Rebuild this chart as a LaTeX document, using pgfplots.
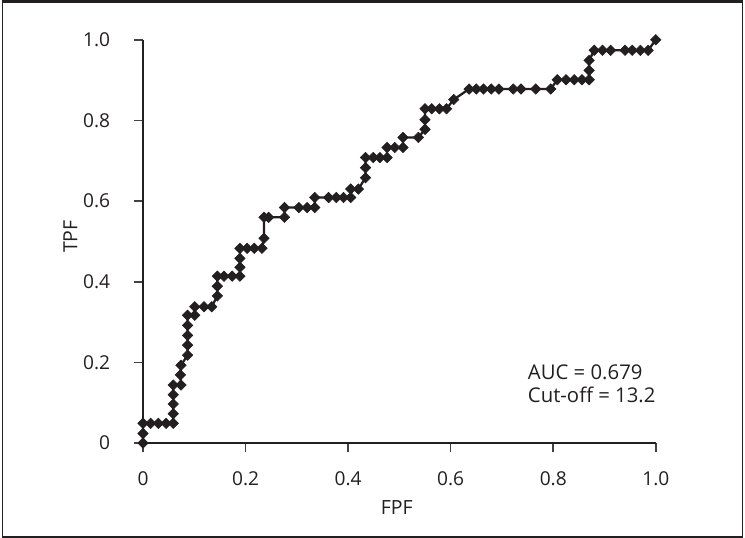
\documentclass[border=0pt]{standalone}
\usepackage{pgfplots}
\pgfplotsset{compat=1.18}
\usepackage{fontspec}
\setmainfont{Open Sans}
\definecolor{ink}{HTML}{231F20}
\begin{document}
\begin{tikzpicture}
\begin{axis}[
  at={(0,0)}, anchor=south west,
  scale only axis, width=257.5pt, height=202.5pt,
  xmin=0, xmax=1, ymin=0, ymax=1,
  clip=false,
  axis x line*=bottom, axis y line*=left,
  axis line style={ink, line width=0.8pt, -},
  tick align=outside, major tick length=4.5pt,
  tick style={ink!85, line width=0.8pt},
  xtick={0,0.2,0.4,0.6,0.8,1.0},
  ytick={0,0.2,0.4,0.6,0.8,1.0},
  xticklabels={0,0.2,0.4,0.6,0.8,1.0},
  yticklabels={0,0.2,0.4,0.6,0.8,1.0},
  ticklabel style={font=\fontsize{9.6}{11}\selectfont, text=ink},
  xticklabel style={yshift=-6.3pt},
  yticklabel style={xshift=-8.5pt},
  xlabel={FPF}, ylabel={TPF},
  label style={font=\fontsize{9.8}{11}\selectfont, text=ink},
  xlabel style={at={(axis description cs:0.495,-0.16)}, anchor=center},
  ylabel style={at={(axis description cs:-0.1417,0.512)}, anchor=center},
]
\addplot[ink, line width=1.15pt, mark=square*, mark size=1.85pt, mark options={rotate=45, fill=ink, draw=ink, line width=0.3pt}] coordinates {
(0,0)(0,0.024)(0,0.049)(0.015,0.049)(0.030,0.049)(0.045,0.049)(0.059,0.049)
(0.059,0.073)(0.059,0.097)(0.059,0.120)(0.059,0.144)(0.074,0.144)(0.073,0.169)(0.074,0.193)
(0.087,0.218)(0.087,0.243)(0.087,0.267)(0.087,0.292)(0.087,0.317)(0.101,0.317)
(0.101,0.338)(0.119,0.338)(0.134,0.338)(0.145,0.365)(0.145,0.389)(0.145,0.414)
(0.158,0.414)(0.174,0.414)(0.189,0.414)(0.189,0.436)(0.189,0.458)(0.189,0.483)
(0.203,0.483)(0.217,0.483)(0.232,0.483)(0.236,0.508)(0.236,0.560)(0.245,0.560)
(0.276,0.560)(0.276,0.584)(0.304,0.584)(0.320,0.584)(0.335,0.584)(0.335,0.609)
(0.362,0.609)(0.377,0.609)(0.391,0.609)(0.405,0.609)(0.405,0.630)(0.420,0.630)
(0.434,0.658)(0.434,0.683)(0.434,0.708)(0.449,0.708)(0.462,0.708)(0.476,0.708)
(0.476,0.733)(0.491,0.733)(0.507,0.733)(0.507,0.758)(0.537,0.758)(0.550,0.778)
(0.550,0.802)(0.550,0.829)(0.563,0.829)(0.578,0.829)(0.592,0.829)(0.606,0.852)
(0.636,0.878)(0.650,0.878)(0.664,0.878)(0.679,0.878)(0.694,0.878)(0.722,0.878)
(0.737,0.878)(0.766,0.878)(0.795,0.878)(0.808,0.901)(0.825,0.901)(0.841,0.901)
(0.856,0.901)(0.870,0.901)(0.870,0.924)(0.870,0.949)(0.880,0.974)(0.896,0.974)
(0.912,0.974)(0.940,0.974)(0.954,0.974)(0.970,0.974)(0.985,0.974)(1,1)
};
\node[anchor=west, align=left, font=\fontsize{10.2}{11.5}\selectfont, text=ink, inner sep=0pt]
  at (axis cs:0.75,0.146) {AUC = 0.679\\Cut-off = 13.2};
\end{axis}
\draw[ink, line width=0.7pt] (-70.6pt,-47.1pt) rectangle (301.1pt,221.8pt);
\draw[ink, line width=1.6pt] (-71pt,221.7pt) -- (301.5pt,221.7pt);
\end{tikzpicture}
\end{document}
